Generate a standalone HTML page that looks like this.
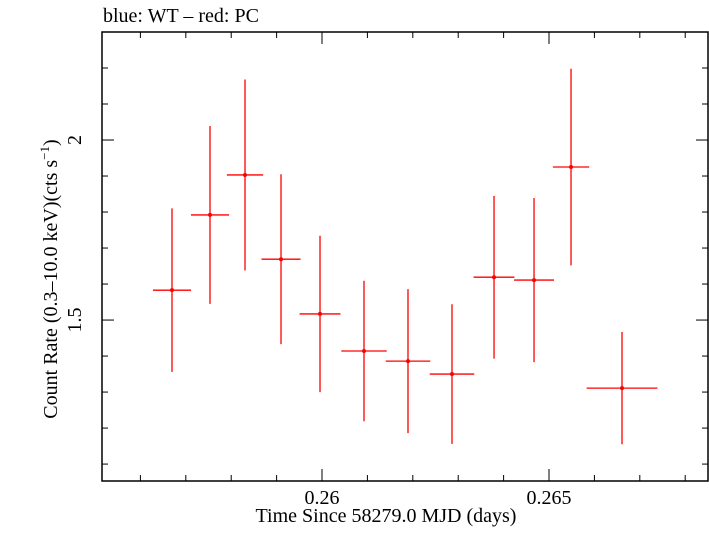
<!DOCTYPE html>
<html><head><meta charset="utf-8"><style>
body{margin:0;background:#fff;}
svg text{font-family:"Liberation Serif",serif;fill:#000;}
</style></head><body>
<svg width="709" height="532" xmlns="http://www.w3.org/2000/svg">
<text x="103" y="22" font-size="20">blue: WT – red: PC</text>
<rect x="102" y="32" width="606" height="449" fill="none" stroke="#000" stroke-width="1.5"/>
<g id="axes"></g>
<g id="marks"></g>
<text x="386" y="522" font-size="20" text-anchor="middle">Time Since 58279.0 MJD (days)</text>
<text transform="translate(57,279) rotate(-90)" font-size="20" text-anchor="middle">Count Rate (0.3–10.0 keV)(cts s<tspan font-size="13" dy="-8">−1</tspan><tspan dy="8">)</tspan></text>
</svg>
<script>
const times=[0.256696,0.257533,0.258304,0.259097,0.259956,0.260925,0.261894,0.262863,0.263789,0.264670,0.265485,0.266608];
const timeErr=[0.00042,0.00042,0.00040,0.00043,0.00045,0.00050,0.00049,0.00049,0.00045,0.00044,0.00040,0.00078];
const rates=[1.583,1.792,1.903,1.669,1.517,1.414,1.386,1.350,1.619,1.611,1.925,1.311];
const rateErr=[0.227,0.247,0.265,0.236,0.217,0.195,0.200,0.194,0.226,0.228,0.273,0.156];
const xTicks=[0.26,0.265];
const xTickLabels=["0.26","0.265"];
const yTicks=[1.5,2];
const yTickLabels=["1.5","2"];
const X0=102,X1=708,Y0=32,Y1=481;
const xmin=0.255154,xmax=0.268502,ymin=1.053,ymax=2.3;
const sx=v=>X0+(v-xmin)/(xmax-xmin)*(X1-X0);
const sy=v=>Y1-(v-ymin)/(ymax-ymin)*(Y1-Y0);
const NS="http://www.w3.org/2000/svg";
const axes=document.getElementById('axes'),marks=document.getElementById('marks');
function ln(p,x1,y1,x2,y2,c,w){const l=document.createElementNS(NS,'line');l.setAttribute('x1',x1);l.setAttribute('y1',y1);l.setAttribute('x2',x2);l.setAttribute('y2',y2);l.setAttribute('stroke',c);l.setAttribute('stroke-width',w);p.appendChild(l);return l;}
for(let i=0;i<=14;i++){const v=0.255+i*0.001;if(v<xmin||v>xmax)continue;const x=sx(v);const major=Math.abs(v*1000-Math.round(v*200)*5)<1e-6;const L=major?12:6;
const t1=ln(axes,x,Y1,x,Y1-L,'#000',1);


const t2=ln(axes,x,Y0,x,Y0+L,'#000',1);

}
for(let i=0;i<=13;i++){const v=1.0+i*0.1;if(v<ymin||v>ymax)continue;const y=sy(v);const major=Math.abs(v*2-Math.round(v*2))<1e-6;const L=major?12:6;
const t1=ln(axes,X0,y,X0+L,y,'#000',1);


const t2=ln(axes,X1,y,X1-L,y,'#000',1);

}
xTicks.forEach((v,i)=>{const t=document.createElementNS(NS,'text');t.setAttribute('x',sx(v));t.setAttribute('y',504);t.setAttribute('font-size','20');t.setAttribute('text-anchor','middle');t.textContent=xTickLabels[i];


axes.appendChild(t);});
yTicks.forEach((v,i)=>{const t=document.createElementNS(NS,'text');t.setAttribute('transform',`translate(81,${sy(v)}) rotate(-90)`);t.setAttribute('font-size','20');t.setAttribute('text-anchor','middle');t.textContent=yTickLabels[i];


axes.appendChild(t);});
times.forEach((t,i)=>{const g=document.createElementNS(NS,'g');


ln(g,sx(t-timeErr[i]),sy(rates[i]),sx(t+timeErr[i]),sy(rates[i]),'#f00',1.3);
ln(g,sx(t),sy(rates[i]-rateErr[i]),sx(t),sy(rates[i]+rateErr[i]),'#f00',1.3);
const c=document.createElementNS(NS,'circle');c.setAttribute('cx',sx(t));c.setAttribute('cy',sy(rates[i]));c.setAttribute('r',2);c.setAttribute('fill','#f00');g.appendChild(c);
marks.appendChild(g);});
</script>
</body></html>
